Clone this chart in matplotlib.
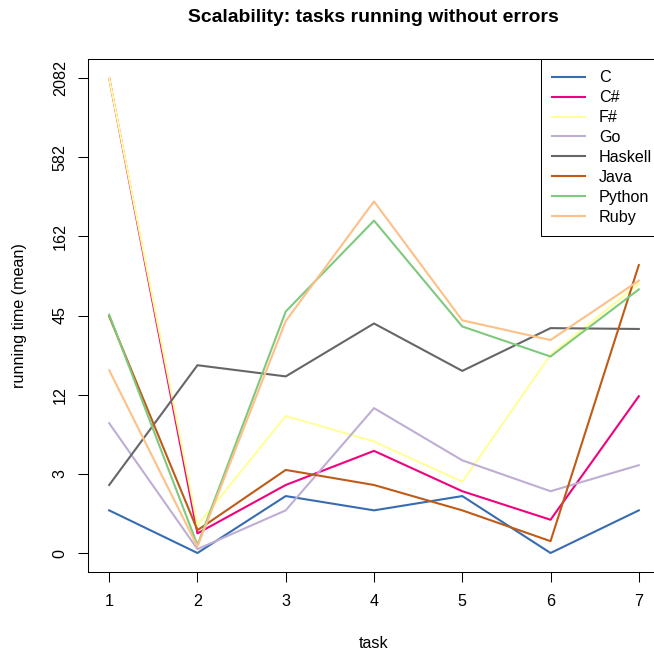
import numpy as np
import matplotlib
matplotlib.use("Agg")
import matplotlib.pyplot as plt

plt.rcParams['font.family'] = ['Liberation Sans', 'DejaVu Sans']

tasks = [1, 2, 3, 4, 5, 6, 7]
tick_labels = [0, 3, 12, 45, 162, 582, 2082]
languages = ["C", "C#", "F#", "Go", "Haskell", "Java", "Python", "Ruby"]
colors = ["#386CB0", "#F0027F", "#FFFF99", "#BEAED4", "#666666", "#BF5B17", "#7FC97F", "#FDC086"]

C = [1.11, 0, 1.71, 1.11, 1.71, 0, 1.11]
CS = [2082, 0.41, 2.29, 4.63, 1.95, 0.79, 11.7]
FS = [2082, 0.62, 8.46, 5.48, 2.48, 23.5, 75.3]
Go = [7.5, 0.07, 1.11, 9.64, 3.89, 1.95, 3.55]
Haskell = [2.29, 19.8, 16.4, 39.5, 18.0, 36.6, 36.1]
Java = [44.4, 0.49, 3.24, 2.29, 1.11, 0.23, 102]
Python = [45.6, 0.15, 48.0, 209, 37.6, 22.9, 68.8]
Ruby = [18.2, 0.12, 41.1, 285, 41.6, 30.1, 79.3]
series = [C, CS, FS, Go, Haskell, Java, Python, Ruby]

# axis: tick labels equally spaced, piecewise log1p between them
L = np.log1p(np.array(tick_labels, dtype=float))
idx = np.arange(len(L), dtype=float)


def fwd(v):
    v = np.asarray(v, dtype=float)
    lv = np.log1p(np.maximum(v, -0.999))
    out = np.interp(lv, L, idx)
    out = np.where(lv < L[0], (lv - L[0]) / (L[1] - L[0]), out)
    out = np.where(lv > L[-1], idx[-1] + (lv - L[-1]) / (L[-1] - L[-2]), out)
    return out


def inv(p):
    p = np.asarray(p, dtype=float)
    lv = np.interp(p, idx, L)
    lv = np.where(p < 0, L[0] + p * (L[1] - L[0]), lv)
    lv = np.where(p > idx[-1], L[-1] + (p - idx[-1]) * (L[-1] - L[-2]), lv)
    return np.expm1(lv)


FS_BASE = 11.6
W, H = 654, 656
fig = plt.figure(figsize=(W / 100, H / 100), dpi=100)
ax = fig.add_axes([88 / W, 1 - 572 / H, 572 / W, (572 - 59) / H])
ax.set_yscale('function', functions=(fwd, inv))

for vals, col, name in zip(series, colors, languages):
    ax.plot(tasks, vals, color=col, lw=1.5, label=name)

ax.set_xlim(0.76, 7.24)
ax.set_ylim(float(inv(-0.24)), float(inv(6.24)))
ax.set_xticks(tasks)
ax.set_xticklabels([str(t) for t in tasks])
ax.set_yticks(tick_labels)
ax.set_yticklabels([str(t) for t in tick_labels], rotation=90, va='center')
ax.minorticks_off()
ax.tick_params(axis='both', direction='out', length=7.5, width=0.75,
               labelsize=FS_BASE, color='black')
ax.tick_params(axis='x', pad=8)
ax.tick_params(axis='y', pad=7)
for s in ax.spines.values():
    s.set_linewidth(0.75)
    s.set_color('black')

leg = ax.legend(loc='upper right', bbox_to_anchor=(1.0063, 1), borderaxespad=0,
                fancybox=False, framealpha=1, edgecolor='black', fontsize=FS_BASE,
                handlelength=2.05, handletextpad=0.87, labelspacing=0.307,
                borderpad=0.7)
leg.get_frame().set_linewidth(0.75)

fig.text(373.5 / W, 1 - 18 / H, "Scalability: tasks running without errors",
         ha='center', va='center', fontsize=FS_BASE * 1.2, fontweight='bold')
fig.text(374 / W, 1 - 643 / H, "task", ha='center', va='center', fontsize=FS_BASE)
fig.text(20 / W, 1 - 316 / H, "running time (mean)", ha='center', va='center',
         rotation=90, fontsize=FS_BASE)

fig.savefig("out.png", dpi=100)
